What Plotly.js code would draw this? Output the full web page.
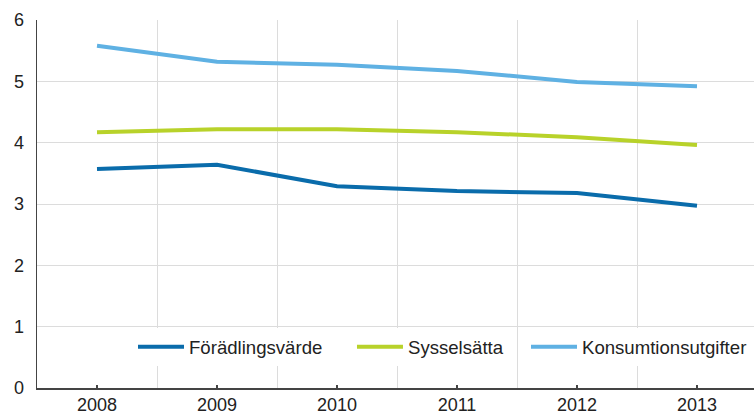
<!DOCTYPE html>
<html>
<head>
<meta charset="utf-8">
<script src="https://cdn.plot.ly/plotly-3.0.1.min.js"></script>
<style>html,body{margin:0;padding:0;background:#fff;}#chart{width:754px;height:419px;}</style>
</head>
<body>
<div id="chart"></div>
<script>
const years = [2008, 2009, 2010, 2011, 2012, 2013];
const seriesNames = ["Förädlingsvärde", "Sysselsätta", "Konsumtionsutgifter"];
const foradlingsvarde = [3.57, 3.64, 3.29, 3.21, 3.18, 2.97];
const sysselsatta = [4.17, 4.22, 4.22, 4.17, 4.09, 3.96];
const konsumtionsutgifter = [5.58, 5.32, 5.27, 5.17, 4.99, 4.92];
const yTicks = [0, 1, 2, 3, 4, 5, 6];

const colors = ["#0a6cab", "#b8d22a", "#5fb1e3"];
const values = [foradlingsvarde, sysselsatta, konsumtionsutgifter];
const legendIds = ["legend", "legend2", "legend3"];
const legendX = [0.1339, 0.4393, 0.6820];

const traces = values.map((v, i) => ({
  x: years, y: v, name: seriesNames[i], type: "scatter", mode: "lines",
  legend: legendIds[i],
  line: {color: colors[i], width: 4, shape: "linear"}
}));

const layout = {
  width: 754, height: 419,
  margin: {l: 37, r: 0, t: 20, b: 31, autoexpand: false},
  paper_bgcolor: "#fff", plot_bgcolor: "#fff",
  font: {family: "Liberation Sans, Arial, sans-serif", size: 18, color: "#222"},
  showlegend: true,
  xaxis: {
    range: [2007.5, 2013.475], tickvals: years, ticktext: years.map(String),
    showgrid: false, zeroline: false,
    showline: true, linecolor: "#444", linewidth: 1.5,
    ticks: "inside", ticklen: 3, tickcolor: "#444", tickwidth: 1.5,
    minor: {tick0: 2007.5, dtick: 1, showgrid: true, gridcolor: "#dcdcdc", gridwidth: 1, ticks: ""},
    fixedrange: true
  },
  yaxis: {
    range: [0, 6], tickvals: yTicks, showgrid: true, gridcolor: "#dcdcdc", gridwidth: 1,
    zeroline: false, showline: true, linecolor: "#444", linewidth: 1.5,
    ticks: "", ticklabelstandoff: 8, fixedrange: true
  }
};
legendIds.forEach((id, i) => {
  layout[id] = {
    orientation: "h", x: legendX[i], xanchor: "left", y: 0.111, yanchor: "middle",
    bgcolor: "#fff", font: {size: 18.6, color: "#222"}, itemwidth: 46
  };
});

Plotly.newPlot("chart", traces, layout, {displayModeBar: false, staticPlot: true});
</script>
</body>
</html>
